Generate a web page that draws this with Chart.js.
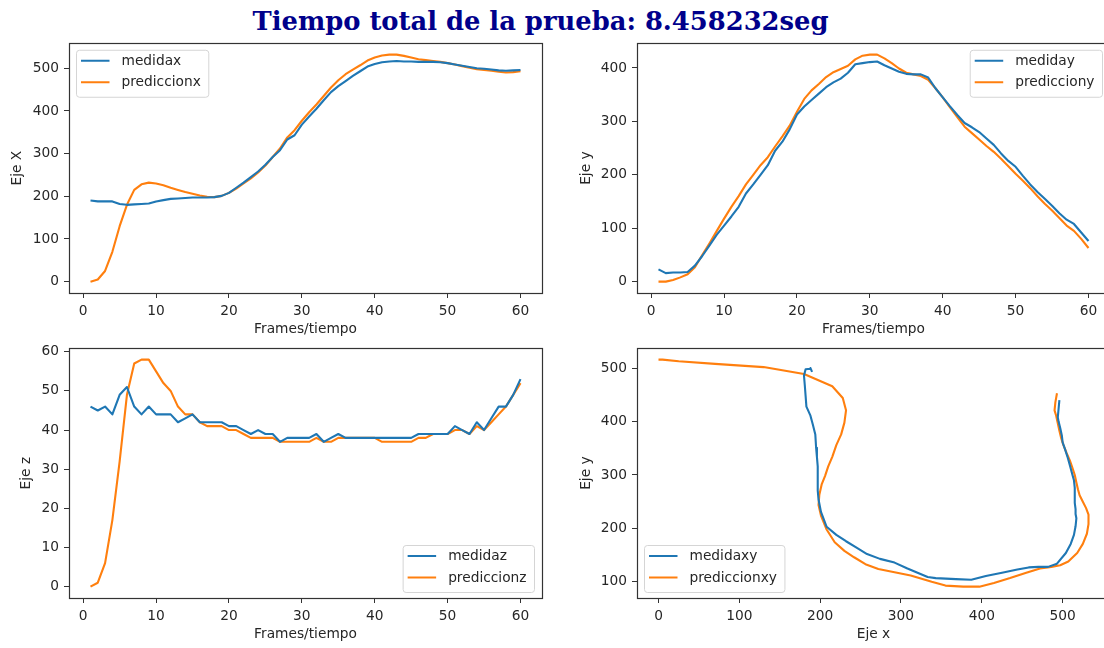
<!DOCTYPE html>
<html><head><meta charset="utf-8">
<script src="https://cdn.jsdelivr.net/npm/chart.js@4.4.0/dist/chart.umd.min.js"></script>
<style>
html,body{margin:0;padding:0;width:1104px;height:648px;overflow:hidden;background:#fff;}
#title{position:absolute;left:0;width:1081px;top:6px;text-align:center;font-family:'DejaVu Serif',serif;font-weight:bold;font-size:25.8px;line-height:normal;color:#00008b;white-space:nowrap;}
canvas{position:absolute;}
</style></head><body>
<div id="title">Tiempo total de la prueba: 8.458232seg</div>
<canvas id="cX"></canvas>
<canvas id="cY"></canvas>
<canvas id="cZ"></canvas>
<canvas id="cXY"></canvas>
<script>
// ---------- data ----------
const frames = [1,2,3,4,5,6,7,8,9,10,11,12,13,14,15,16,17,18,19,20,21,22,23,24,25,26,27,28,29,30,31,32,33,34,35,36,37,38,39,40,41,42,43,44,45,46,47,48,49,50,51,52,53,54,55,56,57,58,59,60];
const medidax = [190,188,188,188,182,180,181,182,183,188,191,194,195,196,197,197,197,198,201,208,220,232,245,258,274,292,308,333,343,368,387,405,425,444,458,470,482,493,504,510,514,516,517,516,516,515,515,515,514,512,509,506,503,500,499,497,495,494,495,496];
const prediccionx = [0,5,25,70,130,180,215,228,232,230,226,220,215,210,206,202,199,198,201,208,218,230,242,256,272,292,312,338,355,377,397,415,435,455,472,486,497,507,518,525,530,532,532,529,525,521,519,517,515,512,509,505,501,498,496,494,492,490,491,493];
const mediday = [23,16,17,17,18,30,48,68,88,105,122,140,165,182,200,218,245,262,285,313,328,340,352,364,373,380,391,407,409,411,412,405,399,393,389,388,388,382,362,345,328,312,297,289,280,268,256,240,226,215,198,182,168,155,142,128,116,108,92,76];
const predicciony = [0,0,3,8,14,27,50,72,95,118,140,160,182,200,218,233,253,272,292,318,342,358,370,383,392,398,404,416,423,425,425,418,409,399,391,388,385,378,362,345,326,308,290,278,266,254,243,230,216,202,189,175,160,146,133,119,105,95,80,63];
const medidaz = [46,45,46,44,49,51,46,44,46,44,44,44,42,43,44,42,42,42,42,41,41,40,39,40,39,39,37,38,38,38,38,39,37,38,39,38,38,38,38,38,38,38,38,38,38,39,39,39,39,39,41,40,39,42,40,43,46,46,49,53];
const prediccionz = [0,1,6,17,32,49,57,58,58,55,52,50,46,44,44,42,41,41,41,40,40,39,38,38,38,38,37,37,37,37,37,38,37,37,38,38,38,38,38,38,37,37,37,37,37,38,38,39,39,39,40,40,39,41,40,42,44,46,49,52];
// trajectory plot (Eje x vs Eje y)
const medidaxyX = [190,188,188,188,182,180,181,182,183,188,191,194,195,196,197,197,197,198,201,208,220,232,245,258,274,292,308,333,343,368,387,405,425,444,458,470,482,493,504,510,514,516,517,516,516,515,515,515,514,512,509,506,503,500,499,497,495,494,495,496];
const medidaxyY = [493,500,499,499,498,486,468,448,428,411,394,376,351,334,316,298,271,254,231,203,188,176,164,152,143,136,125,109,107,105,104,111,117,123,127,128,128,134,154,171,188,204,219,227,236,248,260,276,290,301,318,334,348,361,374,388,400,408,424,440];
const prediccionxyX = [0,5,25,70,130,180,215,228,232,230,226,220,215,210,206,202,199,198,201,208,218,230,242,256,272,292,312,338,355,377,397,415,435,455,472,486,497,507,518,525,530,532,532,529,525,521,519,517,515,512,509,505,501,498,496,494,492,490,491,493];
const prediccionxyY = [516,516,513,508,502,489,466,444,421,398,376,356,334,316,298,283,263,244,224,198,174,158,146,133,124,118,112,100,93,91,91,98,107,117,125,128,131,138,154,171,190,208,226,238,250,262,273,286,300,314,327,341,356,370,383,397,411,421,436,453];

const ticksFrames = [0,10,20,30,40,50,60];
const ticksEjeX = [0,100,200,300,400,500];
const ticksEjeY = [0,100,200,300,400];
const ticksEjeZ = [0,10,20,30,40,50,60];
const ticksTrayX = [0,100,200,300,400,500];
const ticksTrayY = [100,200,300,400,500];

// ---------- styling ----------
const BLUE = '#1f77b4', ORANGE = '#ff7f0e';
const FONT = "'DejaVu Sans', sans-serif";
const FS = 13.75;
const TXT = '#262626';

function lim(arrs){
  let mn = Infinity, mx = -Infinity;
  arrs.forEach(a => a.forEach(v => { if (v < mn) mn = v; if (v > mx) mx = v; }));
  const m = (mx - mn) * 0.05;
  return [mn - m, mx + m];
}

const mplPlugin = {
  id: 'mplFrame',
  afterDatasetsDraw(chart){
    const ca = chart.chartArea, ctx = chart.ctx;
    const o = chart.options.plugins.mplFrame || {};
    ctx.save();
    // legend
    ctx.font = FS + 'px ' + FONT;
    const ds = chart.data.datasets;
    const tw = Math.max(...ds.map(d => ctx.measureText(d.label).width));
    const w = 45 + tw + 8, h = 47;
    const corner = o.corner || 'tl';
    const x = corner.includes('l') ? ca.left + 7.5 : ca.right - 7.5 - w;
    const y = corner.includes('t') ? ca.top + 7 : ca.bottom - 5.5 - h;
    const r = 3;
    ctx.beginPath();
    ctx.moveTo(x + r, y); ctx.lineTo(x + w - r, y); ctx.arcTo(x + w, y, x + w, y + r, r);
    ctx.lineTo(x + w, y + h - r); ctx.arcTo(x + w, y + h, x + w - r, y + h, r);
    ctx.lineTo(x + r, y + h); ctx.arcTo(x, y + h, x, y + h - r, r);
    ctx.lineTo(x, y + r); ctx.arcTo(x, y, x + r, y, r);
    ctx.closePath();
    ctx.fillStyle = 'rgba(255,255,255,0.8)'; ctx.fill();
    ctx.strokeStyle = '#d5d5d5'; ctx.lineWidth = 1; ctx.stroke();
    ds.forEach((d, i) => {
      const yy = y + 10.5 + i * 21.5;
      ctx.strokeStyle = d.borderColor; ctx.lineWidth = 2;
      ctx.beginPath(); ctx.moveTo(x + 4.5, yy); ctx.lineTo(x + 33, yy); ctx.stroke();
      ctx.fillStyle = TXT; ctx.textBaseline = 'middle'; ctx.textAlign = 'left';
      ctx.fillText(d.label, x + 45, yy + 0.5);
    });
    // full spine box
    ctx.strokeStyle = '#333'; ctx.lineWidth = 1.2;
    ctx.strokeRect(Math.round(ca.left) + 0.5, Math.round(ca.top) + 0.5, Math.round(ca.right - ca.left), Math.round(ca.bottom - ca.top));
    ctx.restore();
  }
};

function axis(pos, range, ticks, title, fitSize){
  const o = {
    type: 'linear', position: pos, min: range[0], max: range[1],
    afterBuildTicks: s => { s.ticks = ticks.map(v => ({value: v})); },
    ticks: {font: {family: FONT, size: FS}, color: TXT, padding: 5, maxRotation: 0, autoSkip: false},
    grid: {display: true, drawOnChartArea: false, drawTicks: true, tickLength: 5, color: '#333', lineWidth: 1},
    border: {display: false},
    title: {display: true, text: title, font: {family: FONT, size: FS}, color: TXT, padding: 0}
  };
  if (pos === 'bottom') o.afterFit = s => { s.height = fitSize; };
  else o.afterFit = s => { s.width = fitSize; };
  return o;
}

function makeChart(id, cfg){
  const padT = 10, padR = 10;
  const cv = document.getElementById(id);
  const left = cfg.L - cfg.W, top = cfg.T - padT;
  cv.style.left = left + 'px'; cv.style.top = top + 'px';
  cv.width = cfg.R - left + padR; cv.height = cfg.B + cfg.H - top;
  new Chart(cv, {
    type: 'scatter',
    data: {datasets: cfg.series.map(s => ({
      label: s.label,
      data: s.xs.map((x, i) => ({x: x, y: s.ys[i]})),
      showLine: true, borderColor: s.color, backgroundColor: s.color,
      borderWidth: 2.1, pointRadius: 0, tension: 0, fill: false,
      borderJoinStyle: 'round', borderCapStyle: 'butt'
    }))},
    options: {
      responsive: false, animation: false, events: [],
      layout: {padding: {top: padT, right: padR, left: 0, bottom: 0}},
      plugins: {legend: {display: false}, tooltip: {enabled: false}, mplFrame: {corner: cfg.corner}},
      scales: {
        x: axis('bottom', lim(cfg.series.map(s => s.xs)), cfg.xt, cfg.xTitle, cfg.H),
        y: axis('left', lim(cfg.series.map(s => s.ys)), cfg.yt, cfg.yTitle, cfg.W)
      }
    },
    plugins: [mplPlugin]
  });
}

makeChart('cX', {L: 69, R: 542, T: 40, B: 293, W: 60, H: 45, corner: 'tl',
  xt: ticksFrames, yt: ticksEjeX, xTitle: 'Frames/tiempo', yTitle: 'Eje X',
  series: [{label: 'medidax', xs: frames, ys: medidax, color: BLUE},
           {label: 'prediccionx', xs: frames, ys: prediccionx, color: ORANGE}]});
makeChart('cY', {L: 637, R: 1110, T: 40, B: 293, W: 59, H: 45, corner: 'tr',
  xt: ticksFrames, yt: ticksEjeY, xTitle: 'Frames/tiempo', yTitle: 'Eje y',
  series: [{label: 'mediday', xs: frames, ys: mediday, color: BLUE},
           {label: 'predicciony', xs: frames, ys: predicciony, color: ORANGE}]});
makeChart('cZ', {L: 69, R: 542, T: 345, B: 598, W: 51, H: 45, corner: 'br',
  xt: ticksFrames, yt: ticksEjeZ, xTitle: 'Frames/tiempo', yTitle: 'Eje z',
  series: [{label: 'medidaz', xs: frames, ys: medidaz, color: BLUE},
           {label: 'prediccionz', xs: frames, ys: prediccionz, color: ORANGE}]});
makeChart('cXY', {L: 637, R: 1110, T: 345, B: 598, W: 59, H: 45, corner: 'bl',
  xt: ticksTrayX, yt: ticksTrayY, xTitle: 'Eje x', yTitle: 'Eje y',
  series: [{label: 'medidaxy', xs: medidaxyX, ys: medidaxyY, color: BLUE},
           {label: 'prediccionxy', xs: prediccionxyX, ys: prediccionxyY, color: ORANGE}]});
</script>
</body></html>
